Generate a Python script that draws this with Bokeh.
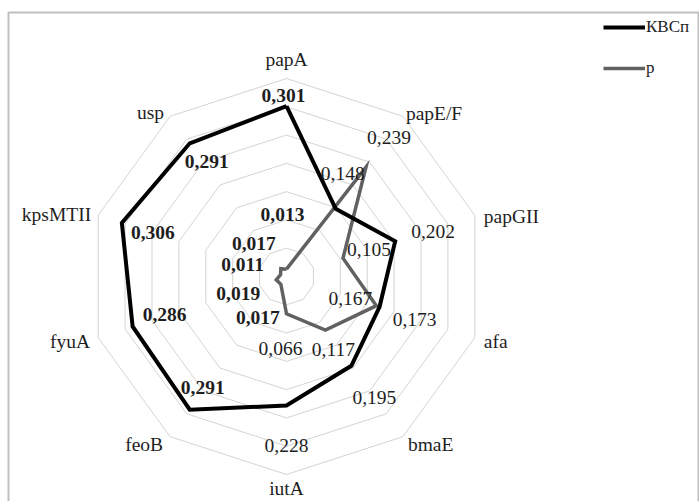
import numpy as np
from bokeh.plotting import figure
from bokeh.models import ColumnDataSource, Range1d, Legend, LegendItem, BoxAnnotation
from bokeh.core.properties import value
from bokeh.embed import file_html
from bokeh.resources import INLINE

# ---- data ----
categories = ["papA", "papE/F", "papGII", "afa", "bmaE", "iutA", "feoB", "fyuA", "kpsMTII", "usp"]
kvsp = [0.301, 0.148, 0.202, 0.173, 0.195, 0.228, 0.291, 0.286, 0.306, 0.291]
p_vals = [0.013, 0.239, 0.105, 0.167, 0.117, 0.066, 0.017, 0.019, 0.011, 0.017]
bold_kvsp = [True, False, False, False, False, False, True, True, True, True]
bold_p = [True, False, False, False, False, False, True, True, True, True]
series_names = ["КВСп", "p"]
ring_levels = [0.05, 0.10, 0.15, 0.20, 0.25, 0.30, 0.35]
r_max = 0.35

# ---- styles / layout ----
W, H = 699, 501
cx, cy = 286, 276          # centre in pixels (from top-left)
R_px = 198
scale = R_px / r_max
FONT = "Liberation Serif"
TXT = "#1e1e1e"
FS = "19.5px"

# label offsets (pixels; y down)
off_kvsp = [(-3, -11), (7, -35), (38, -10), (35, 13), (23, 32), (0, 40), (13, -22), (32, -12), (31, 9), (17, 18)]
off_p = [(-4, -55), (23, -30), (26, -9), (-26, -7), (8, 19), (-6, 35), (-23, 33), (-38, 14), (-38, -10), (-27, -25)]
cat_off = [(0, -19), (3, -3), (9, 1), (9, 4), (5, 8), (0, 14), (-7, 8), (-8, 4), (-7, -1), (-6, -4)]
cat_align = ["center", "left", "left", "left", "left", "center", "right", "right", "right", "right"]

n = len(categories)
theta = np.array([2 * np.pi * i / n for i in range(n)])
sx, cy_ = np.sin(theta), np.cos(theta)

p = figure(width=W, height=H, output_backend="svg", toolbar_location=None,
           x_range=Range1d(-cx / scale, (W - cx) / scale),
           y_range=Range1d(-(H - cy) / scale, cy / scale),
           min_border=0, min_border_left=0, min_border_right=0,
           min_border_top=0, min_border_bottom=0)
p.axis.visible = False
p.grid.visible = False
p.outline_line_color = None
p.background_fill_color = "white"
p.border_fill_color = "white"

# chart border
p.add_layout(BoxAnnotation(left=8, right=698, top=12, bottom=560,
                           left_units="canvas", right_units="canvas",
                           top_units="canvas", bottom_units="canvas",
                           fill_alpha=0, fill_color=None, line_alpha=1.0,
                           line_color="#bfbfbf", line_width=2, level="underlay"))

# rings
ring_xs, ring_ys = [], []
for lv in ring_levels:
    ring_xs.append(list(lv * np.append(sx, sx[0])))
    ring_ys.append(list(lv * np.append(cy_, cy_[0])))
p.multi_line(ring_xs, ring_ys, line_color="#d4d4d4", line_width=1)

def closed(vals):
    v = np.array(vals)
    xs = v * sx
    ys = v * cy_
    return list(np.append(xs, xs[0])), list(np.append(ys, ys[0]))

kx, ky = closed(kvsp)
px_, py_ = closed(p_vals)
r_p = p.line(px_, py_, line_color="#616161", line_width=3.5, line_join="miter")
r_k = p.line(kx, ky, line_color="#000000", line_width=4, line_join="miter")

def fmt(v):
    return f"{v:.3f}".replace(".", ",")

def labels(vals, bolds, offs):
    v = np.array(vals)
    return ColumnDataSource(dict(
        x=list(v * sx), y=list(v * cy_),
        text=[fmt(a) for a in vals],
        style=["bold" if b else "normal" for b in bolds],
        xo=[o[0] for o in offs], yo=[o[1] for o in offs]))

for src in (labels(kvsp, bold_kvsp, off_kvsp), labels(p_vals, bold_p, off_p)):
    p.text(x="x", y="y", text="text", source=src, x_offset="xo", y_offset="yo",
           text_font=value(FONT), text_font_size=FS, text_font_style="style",
           text_align="center", text_baseline="middle", text_color=TXT)

cat_src = ColumnDataSource(dict(
    x=list(r_max * sx), y=list(r_max * cy_), text=categories,
    xo=[o[0] for o in cat_off], yo=[o[1] for o in cat_off], align=cat_align))
p.text(x="x", y="y", text="text", source=cat_src, x_offset="xo", y_offset="yo",
       text_align="align", text_baseline="middle",
       text_font=value(FONT), text_font_size=FS, text_color=TXT)

legend = Legend(items=[LegendItem(label=series_names[0], renderers=[r_k]),
                       LegendItem(label=series_names[1], renderers=[r_p])],
                location=(603, 423), glyph_width=42, glyph_height=20,
                label_standoff=1, spacing=21, padding=0, margin=0,
                border_line_color=None, background_fill_alpha=0,
                label_text_font=FONT, label_text_font_size="17px",
                label_text_color=TXT)
p.add_layout(legend)

open("out.html", "w").write(file_html(p, INLINE))
